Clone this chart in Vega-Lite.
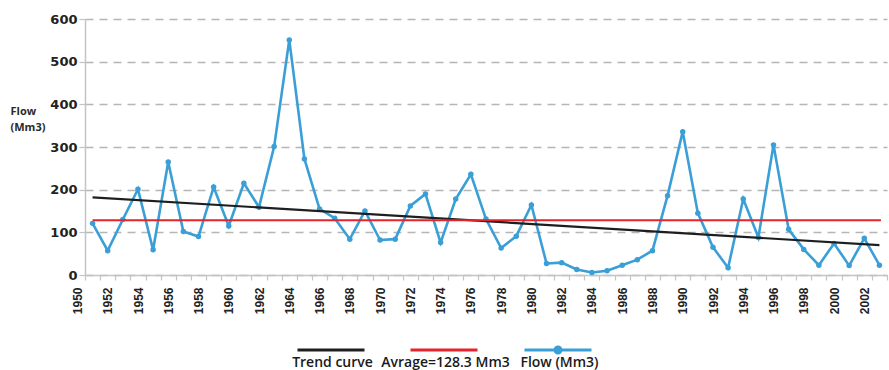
{
  "$schema": "https://vega.github.io/schema/vega-lite/v6.json",
  "width": 802,
  "height": 256,
  "autosize": "none",
  "padding": {"left": 85, "top": 19, "right": 2, "bottom": 95},
  "background": "white",
  "config": {
    "view": {"stroke": null},
    "axis": {"domainColor": "#c4c4c4", "domainWidth": 1.5, "tickColor": "#c4c4c4", "tickWidth": 1.2}
  },
  "data": {
    "values": [
      {"year": 1951, "value": 121, "series": "Flow (Mm3)"},
      {"year": 1952, "value": 57, "series": "Flow (Mm3)"},
      {"year": 1953, "value": 130, "series": "Flow (Mm3)"},
      {"year": 1954, "value": 201, "series": "Flow (Mm3)"},
      {"year": 1955, "value": 59, "series": "Flow (Mm3)"},
      {"year": 1956, "value": 265, "series": "Flow (Mm3)"},
      {"year": 1957, "value": 102, "series": "Flow (Mm3)"},
      {"year": 1958, "value": 90, "series": "Flow (Mm3)"},
      {"year": 1959, "value": 206, "series": "Flow (Mm3)"},
      {"year": 1960, "value": 115, "series": "Flow (Mm3)"},
      {"year": 1961, "value": 215, "series": "Flow (Mm3)"},
      {"year": 1962, "value": 159, "series": "Flow (Mm3)"},
      {"year": 1963, "value": 301, "series": "Flow (Mm3)"},
      {"year": 1964, "value": 551, "series": "Flow (Mm3)"},
      {"year": 1965, "value": 272, "series": "Flow (Mm3)"},
      {"year": 1966, "value": 155, "series": "Flow (Mm3)"},
      {"year": 1967, "value": 133, "series": "Flow (Mm3)"},
      {"year": 1968, "value": 84, "series": "Flow (Mm3)"},
      {"year": 1969, "value": 150, "series": "Flow (Mm3)"},
      {"year": 1970, "value": 82, "series": "Flow (Mm3)"},
      {"year": 1971, "value": 84, "series": "Flow (Mm3)"},
      {"year": 1972, "value": 162, "series": "Flow (Mm3)"},
      {"year": 1973, "value": 190, "series": "Flow (Mm3)"},
      {"year": 1974, "value": 76, "series": "Flow (Mm3)"},
      {"year": 1975, "value": 178, "series": "Flow (Mm3)"},
      {"year": 1976, "value": 236, "series": "Flow (Mm3)"},
      {"year": 1977, "value": 131, "series": "Flow (Mm3)"},
      {"year": 1978, "value": 63, "series": "Flow (Mm3)"},
      {"year": 1979, "value": 91, "series": "Flow (Mm3)"},
      {"year": 1980, "value": 164, "series": "Flow (Mm3)"},
      {"year": 1981, "value": 27, "series": "Flow (Mm3)"},
      {"year": 1982, "value": 29, "series": "Flow (Mm3)"},
      {"year": 1983, "value": 13, "series": "Flow (Mm3)"},
      {"year": 1984, "value": 6, "series": "Flow (Mm3)"},
      {"year": 1985, "value": 10, "series": "Flow (Mm3)"},
      {"year": 1986, "value": 23, "series": "Flow (Mm3)"},
      {"year": 1987, "value": 36, "series": "Flow (Mm3)"},
      {"year": 1988, "value": 57, "series": "Flow (Mm3)"},
      {"year": 1989, "value": 186, "series": "Flow (Mm3)"},
      {"year": 1990, "value": 336, "series": "Flow (Mm3)"},
      {"year": 1991, "value": 145, "series": "Flow (Mm3)"},
      {"year": 1992, "value": 65, "series": "Flow (Mm3)"},
      {"year": 1993, "value": 17, "series": "Flow (Mm3)"},
      {"year": 1994, "value": 178, "series": "Flow (Mm3)"},
      {"year": 1995, "value": 88, "series": "Flow (Mm3)"},
      {"year": 1996, "value": 305, "series": "Flow (Mm3)"},
      {"year": 1997, "value": 107, "series": "Flow (Mm3)"},
      {"year": 1998, "value": 60, "series": "Flow (Mm3)"},
      {"year": 1999, "value": 23, "series": "Flow (Mm3)"},
      {"year": 2000, "value": 74, "series": "Flow (Mm3)"},
      {"year": 2001, "value": 22, "series": "Flow (Mm3)"},
      {"year": 2002, "value": 86, "series": "Flow (Mm3)"},
      {"year": 2003, "value": 23, "series": "Flow (Mm3)"},
      {"year": 1951, "value": 182, "series": "Trend curve"},
      {"year": 2003, "value": 70, "series": "Trend curve"},
      {"year": 1951, "value": 128.3, "series": "Avrage=128.3 Mm3"},
      {"year": 2003.1, "value": 128.3, "series": "Avrage=128.3 Mm3"}
    ]
  },
  "encoding": {
    "x": {
      "field": "year",
      "type": "quantitative",
      "scale": {"domain": [1950.5, 2003.5], "nice": false, "zero": false},
      "axis": {
        "title": null,
        "grid": false,
        "values": [1950.5, 1951.5, 1952.5, 1953.5, 1954.5, 1955.5, 1956.5, 1957.5, 1958.5, 1959.5, 1960.5, 1961.5, 1962.5, 1963.5, 1964.5, 1965.5, 1966.5, 1967.5, 1968.5, 1969.5, 1970.5, 1971.5, 1972.5, 1973.5, 1974.5, 1975.5, 1976.5, 1977.5, 1978.5, 1979.5, 1980.5, 1981.5, 1982.5, 1983.5, 1984.5, 1985.5, 1986.5, 1987.5, 1988.5, 1989.5, 1990.5, 1991.5, 1992.5, 1993.5, 1994.5, 1995.5, 1996.5, 1997.5, 1998.5, 1999.5, 2000.5, 2001.5, 2002.5, 2003.5],
        "labelExpr": "(datum.value - 0.5) % 2 === 0 ? format(datum.value - 0.5, 'd') : ''",
        "labelAngle": -90,
        "labelAlign": "right",
        "labelBaseline": "middle",
        "labelOffset": -7.5,
        "labelPadding": 7,
        "labelOverlap": false,
        "labelBound": false,
        "labelFlush": false,
        "labelFont": "Liberation Sans",
        "labelFontSize": 12,
        "labelFontWeight": "bold",
        "labelColor": "#222",
        "tickSize": 5
      }
    },
    "y": {
      "field": "value",
      "type": "quantitative",
      "scale": {"domain": [0, 600], "nice": false},
      "axis": {
        "values": [0, 100, 200, 300, 400, 500, 600],
        "grid": true,
        "gridDash": [8, 6],
        "gridColor": "#b5b5b5",
        "gridWidth": 1.5,
        "tickSize": 6,
        "labelPadding": 2,
        "labelFont": "DejaVu Sans",
        "labelFontSize": 13,
        "labelFontWeight": "bold",
        "labelColor": "#222",
        "title": ["Flow", "(Mm3)"],
        "titleAngle": 0,
        "titleAlign": "left",
        "titleBaseline": "top",
        "titleX": -75,
        "titleY": 86,
        "titleFont": "Open Sans",
        "titleFontSize": 11,
        "titleFontWeight": "bold",
        "titleColor": "#2a2a2a",
        "titleLineHeight": 16
      }
    }
  },
  "layer": [
    {
      "transform": [{"filter": "datum.series === 'Flow (Mm3)'"}],
      "mark": {"type": "line", "strokeWidth": 2.6},
      "encoding": {
        "color": {
          "field": "series",
          "type": "nominal",
          "scale": {"domain": ["Trend curve", "Avrage=128.3 Mm3", "Flow (Mm3)"], "range": ["#1e1e1e", "#e3242b", "#3a9fd6"]},
          "legend": {
            "orient": "none",
            "legendX": 211,
            "legendY": 296,
            "direction": "horizontal",
            "title": null,
            "padding": 0,
            "symbolType": "stroke",
            "symbolSize": 4489,
            "symbolStrokeWidth": 3,
            "labelAlign": "center",
            "labelBaseline": "top",
            "labelOffset": -33.5,
            "labelFont": "Open Sans",
            "labelFontSize": 14,
            "labelFontWeight": 600,
            "labelColor": "#1a1a1a",
            "columnPadding": 8,
            "encode": {
              "labels": {"update": {"dy": {"value": 6}}},
              "symbols": {"update": {
                "shape": {"signal": "datum.value === 'Flow (Mm3)' ? 'M-1,0H1M0.09,0A0.09,0.09,0,1,1,-0.09,0A0.09,0.09,0,1,1,0.09,0Z' : 'M-1,0H1'"}
              }}
            }
          }
        }
      }
    },
    {
      "transform": [{"filter": "datum.series === 'Flow (Mm3)'"}],
      "mark": {"type": "point", "filled": true, "size": 30, "opacity": 1, "color": "#3a9fd6"}
    },
    {
      "transform": [{"filter": "datum.series === 'Trend curve'"}],
      "mark": {"type": "line", "strokeWidth": 2.2},
      "encoding": {"color": {"field": "series", "type": "nominal"}}
    },
    {
      "transform": [{"filter": "datum.series === 'Avrage=128.3 Mm3'"}],
      "mark": {"type": "line", "strokeWidth": 2.2},
      "encoding": {"color": {"field": "series", "type": "nominal"}}
    }
  ]
}
